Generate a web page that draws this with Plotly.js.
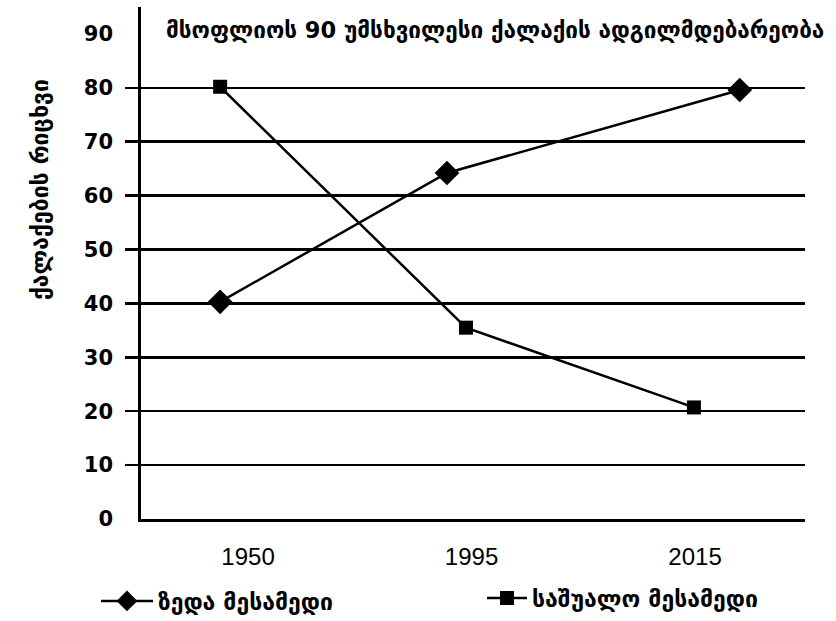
<!DOCTYPE html>
<html>
<head>
<meta charset="utf-8">
<script src="https://cdn.plot.ly/plotly-3.0.1.min.js"></script>
<style>html,body{margin:0;padding:0;background:#fff;}#chart{width:836px;height:621px;}</style>
</head>
<body>
<div id="chart"></div>
<script>
// Category labels (x positions are category indices 0,1,2)
const years = ["1950", "1995", "2015"];
const yearPos = [0, 1, 2];

// Series: upper third (diamonds)
const upperName = "ზედა მესამედი";
const upperX = [-0.125, 0.89, 2.2];
const upperY = [40.3, 64.2, 79.6];

// Series: middle third (squares)
const middleName = "საშუალო მესამედი";
const middleX = [-0.125, 0.975, 1.995];
const middleY = [80.2, 35.5, 20.7];

const gridVals = [10, 20, 30, 40, 50, 60, 70, 80];
const labelVals = [0, 10, 20, 30, 40, 50, 60, 70, 80, 90];

const chartTitle = "მსოფლიოს 90 უმსხვილესი ქალაქის ადგილმდებარეობა";
const yTitle = "ქალაქების რიცხვი";

const FONT = "DejaVu Sans, sans-serif";

const traces = [
  {
    x: upperX, y: upperY, name: upperName, type: "scatter", mode: "lines+markers",
    line: {color: "#000", width: 2.5},
    marker: {symbol: "diamond", size: 19, color: "#000"},
    legend: "legend"
  },
  {
    x: middleX, y: middleY, name: middleName, type: "scatter", mode: "lines+markers",
    line: {color: "#000", width: 2.5},
    marker: {symbol: "square", size: 14, color: "#000"},
    legend: "legend2"
  },
  {
    x: [null], y: [null], yaxis: "y2", showlegend: false, hoverinfo: "skip", mode: "markers"
  }
];

const legendBase = {
  orientation: "h",
  xref: "container", yref: "container",
  xanchor: "left", yanchor: "middle",
  itemwidth: 40,
  font: {family: FONT, size: 23, color: "#000", weight: "bold"},
  bgcolor: "rgba(0,0,0,0)"
};

const layout = {
  width: 836, height: 621,
  paper_bgcolor: "#fff", plot_bgcolor: "#fff",
  margin: {l: 141, r: 31, t: 7, b: 102},
  font: {family: FONT, color: "#000"},
  title: {
    text: "<b>" + chartTitle + "</b>",
    font: {family: FONT, size: 22.5, color: "#000"},
    xref: "container", yref: "container",
    x: 166/836, xanchor: "left",
    y: 1 - 30/621, yanchor: "middle"
  },
  xaxis: {
    range: [-0.479, 2.492],
    tickvals: yearPos, ticktext: years,
    showgrid: false, zeroline: false,
    showline: true, linecolor: "#000", linewidth: 3,
    ticks: "", ticklabelstandoff: 14,
    tickfont: {family: "Liberation Sans, Arial, sans-serif", size: 24, color: "#000"},
    fixedrange: true
  },
  yaxis: {
    range: [0, 95],
    tickvals: gridVals,
    showticklabels: false,
    showgrid: true, gridcolor: "#000", gridwidth: 2.5,
    zeroline: false,
    showline: true, linecolor: "#000", linewidth: 3,
    ticks: "outside", ticklen: 13, tickwidth: 2.5, tickcolor: "#000",
    fixedrange: true
  },
  yaxis2: {
    overlaying: "y", side: "left",
    range: [0, 95],
    tickvals: labelVals,
    showgrid: false, zeroline: false, showline: false,
    ticks: "", ticklabelstandoff: 27,
    tickfont: {family: "DejaVu Sans, sans-serif", size: 21, color: "#000", weight: "bold"},
    fixedrange: true
  },
  showlegend: true,
  legend: Object.assign({}, legendBase, {x: 96/836, y: 1 - 601/621, itemwidth: 52}),
  legend2: Object.assign({}, legendBase, {x: 482/836, y: 1 - 598/621}),
  annotations: [
    {
      text: "<b>" + yTitle + "</b>", textangle: -90,
      xref: "paper", yref: "paper",
      x: (40 - 141)/664, xanchor: "center",
      y: (519 - 190)/512, yanchor: "middle",
      showarrow: false,
      font: {family: FONT, size: 23, color: "#000"}
    }
  ]
};

Plotly.newPlot("chart", traces, layout, {displayModeBar: false, staticPlot: true});
</script>
</body>
</html>
